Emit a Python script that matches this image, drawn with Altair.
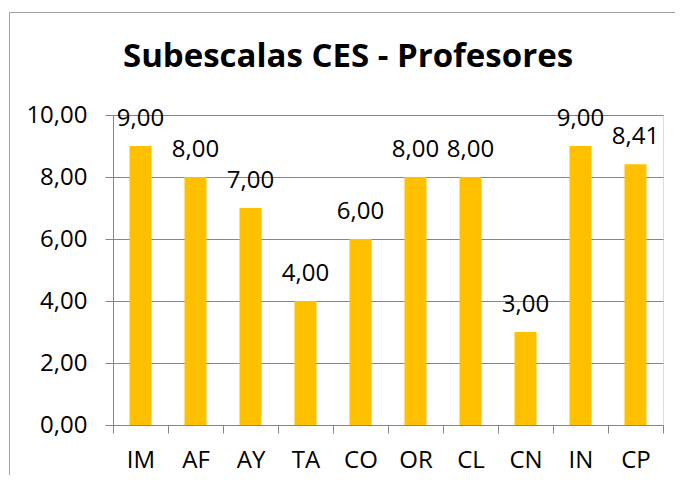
import altair as alt
import pandas as pd

categories = ["IM", "AF", "AY", "TA", "CO", "OR", "CL", "CN", "IN", "CP"]
values = [9.00, 8.00, 7.00, 4.00, 6.00, 8.00, 8.00, 3.00, 9.00, 8.41]
y_ticks = [0, 2, 4, 6, 8, 10]
title_text = "Subescalas CES - Profesores"

df = pd.DataFrame({"cat": categories, "val": values})
df["label"] = [f"{v:.2f}".replace(".", ",") for v in values]
one = pd.DataFrame({"k": [0]})

FONT = "Open Sans"
GRID = "#868686"

x_enc = alt.X(
    "cat:N",
    sort=categories,
    title=None,
    scale=alt.Scale(paddingInner=0, paddingOuter=0),
    axis=alt.Axis(
        labelAngle=0,
        labelFont=FONT,
        labelFontSize=24,
        labelColor="#000000",
        labelPadding=15,
        tickSize=8,
        tickColor=GRID,
        tickBand="extent",
        domainColor=GRID,
        grid=False,
    ),
)
y_enc = alt.Y(
    "val:Q",
    title=None,
    scale=alt.Scale(domain=[0, 10], nice=False, zero=True),
    axis=alt.Axis(
        values=y_ticks,
        labelExpr="replace(format(datum.value, '.2f'), '.', ',')",
        labelFont=FONT,
        labelFontSize=24,
        labelColor="#000000",
        labelPadding=18,
        tickSize=8,
        tickColor=GRID,
        domainColor=GRID,
        gridColor=GRID,
        gridWidth=1,
    ),
)

bars = alt.Chart(df).mark_bar(
    color="#FFC000", width=alt.RelativeBandSize(0.4)
).encode(x=x_enc, y=y_enc)

labels = alt.Chart(df).mark_text(
    font=FONT, fontSize=24, color="#000000", baseline="alphabetic", dy=-20
).encode(x=alt.X("cat:N", sort=categories), y="val:Q", text="label:N")

frame = alt.Chart(one).mark_rect(
    fillOpacity=0, stroke="#A0A0A0", strokeWidth=1
).encode(
    x=alt.value(-103.5), x2=alt.value(800), y=alt.value(-102.5), y2=alt.value(700)
)

title = alt.Chart(one).mark_text(
    font=FONT, fontSize=33, fontWeight="bold", color="#000000",
    align="center", baseline="alphabetic"
).encode(x=alt.value(235), y=alt.value(-48), text=alt.value(title_text))

chart = alt.layer(frame, bars, labels, title).properties(
    width=550,
    height=310,
    autosize=alt.AutoSizeParams(type="none"),
    padding={"left": 105, "top": 107, "right": 12, "bottom": 50},
).configure_view(stroke=None).configure(background="#ffffff")

chart.save("out.html", embed_options={"renderer": "svg", "actions": False})
